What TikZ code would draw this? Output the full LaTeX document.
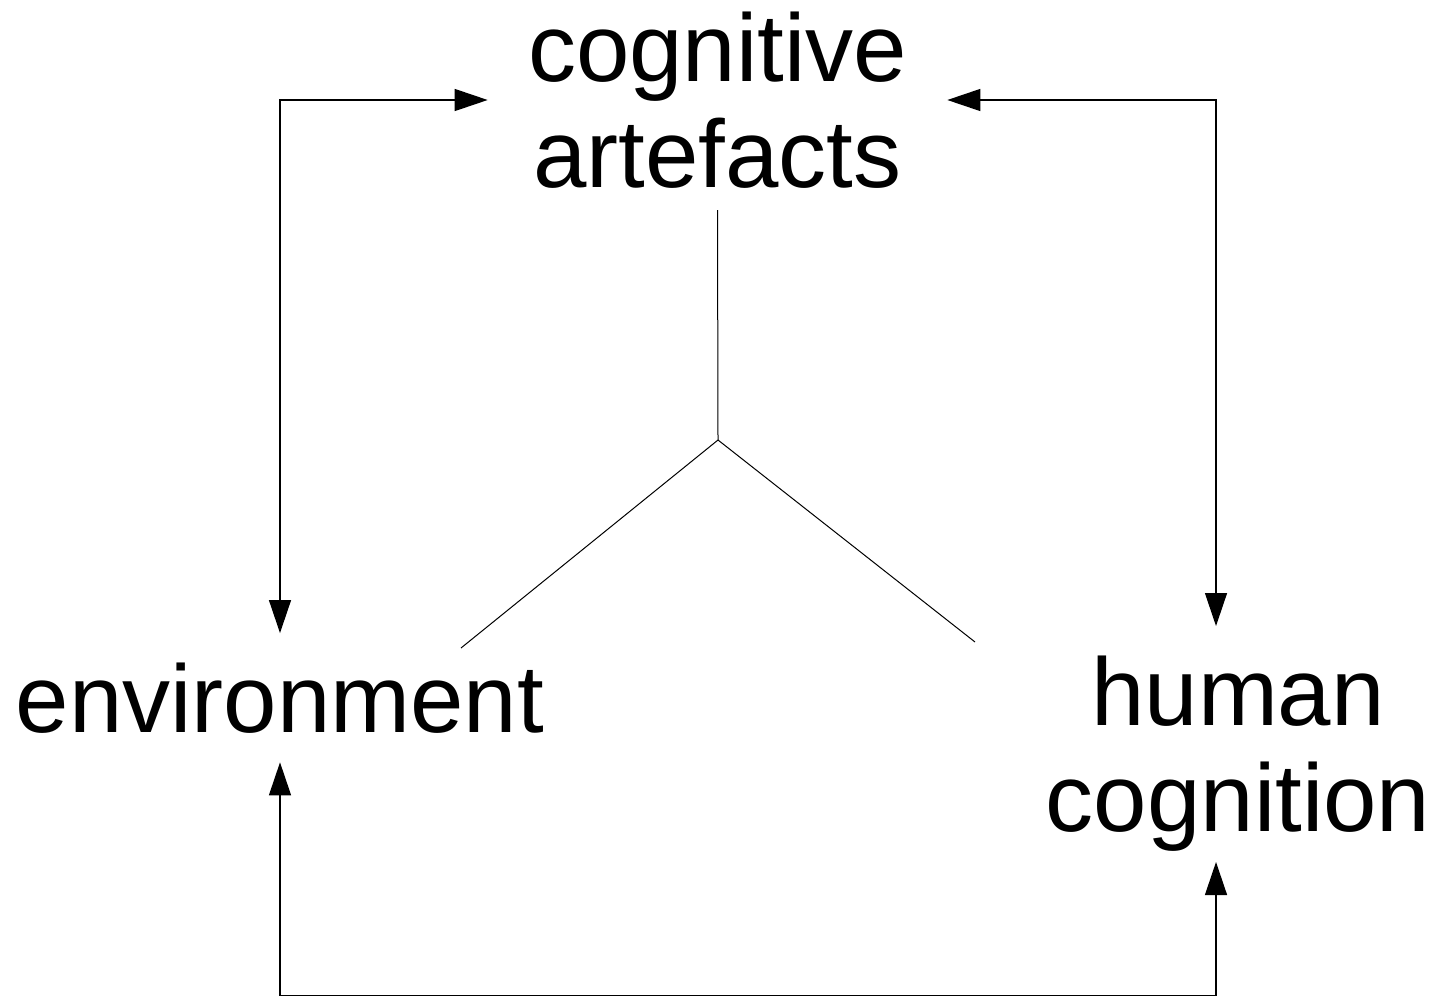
\documentclass[tikz,border=0pt]{standalone}
\usepackage{fontspec}
\setmainfont{Liberation Sans}
\usetikzlibrary{arrows.meta}
\begin{document}
\begin{tikzpicture}[x=0.5pt,y=-0.5pt,
  lbl/.style={font=\fontsize{48}{53}\selectfont, align=center},
  conn/.style={line width=0.65pt, {Triangle[length=16.5pt,width=11pt]}-{Triangle[length=16.5pt,width=11pt]}},
  yline/.style={line width=0.5pt}]
\useasboundingbox (0,0) rectangle (1439,997);
% labels
\node[lbl, inner xsep=20pt, inner ysep=0pt] (ca) at (717.5,100) {cognitive\\artefacts};
\node[lbl, anchor=base, inner xsep=0pt, inner ysep=14.5pt] (env) at (280,732) {environment};
\node[lbl, inner sep=0pt] (hc) at (1238,753.5) {human\\cognition};
% connector ends
\coordinate (hcT) at (1216,626);
\coordinate (hcB) at (1216,862);
\coordinate (bot) at (0,995.5);
% connectors
\draw[conn] (env.north) |- (ca.west);
\draw[conn] (ca.east) -| (hcT);
\draw[conn] (env.south) |- (bot -| hcB) -- (hcB);
% Y figure
\coordinate (yc) at (718,440);
\coordinate (yt) at (717.5,210);
\coordinate (yl) at (461,648);
\coordinate (yr) at (975,642);
\draw[yline] (yt) -- (yc);
\draw[yline] (yc) -- (yl);
\draw[yline] (yc) -- (yr);
\end{tikzpicture}
\end{document}
